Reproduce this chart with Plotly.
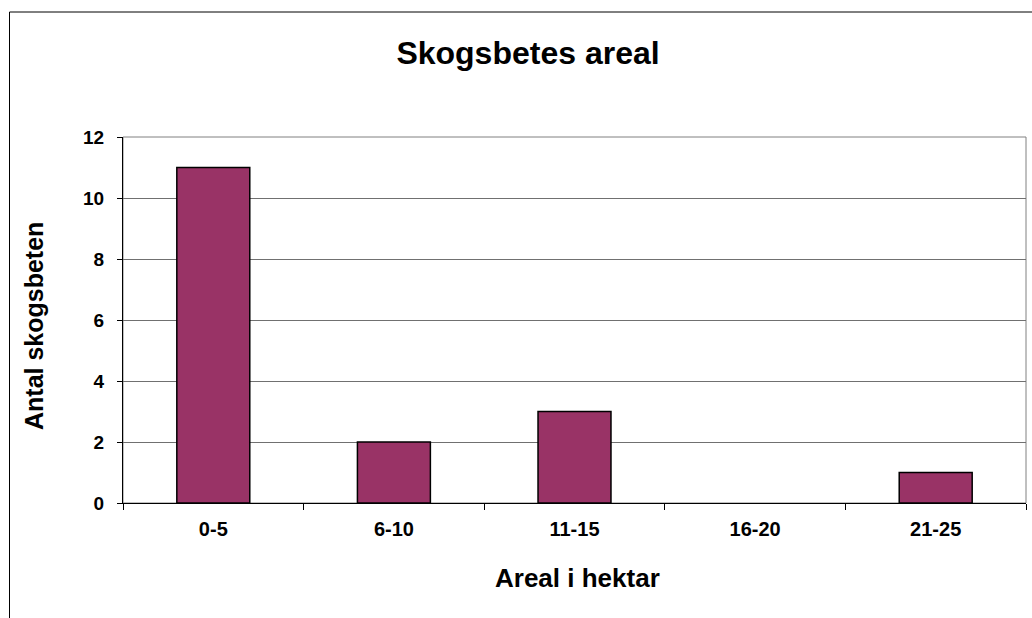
import plotly.graph_objects as go

categories = ["0-5", "6-10", "11-15", "16-20", "21-25"]
counts = [11, 2, 3, 0, 1]
y_ticks = [0, 2, 4, 6, 8, 10, 12]

title_text = "Skogsbetes areal"
x_title = "Areal i hektar"
y_title = "Antal skogsbeten"

W, H = 1032, 618
L, R, T, B = 123, 1026, 137, 503  # plot area in px

def px_x(p):
    return (p - L) / (R - L)

def px_y(p):
    return (B - p) / (B - T)

FONT = "Liberation Sans, Arial, sans-serif"

fig = go.Figure()
fig.add_trace(go.Bar(
    x=categories, y=counts,
    marker=dict(color="#993366",
                line=dict(color="#000000", width=[1.5 if v > 0 else 0 for v in counts])),
    hoverinfo="x+y",
))

fig.update_layout(
    width=W, height=H,
    margin=dict(l=L, r=W - R, t=T, b=H - B, pad=0),
    paper_bgcolor="white", plot_bgcolor="white",
    showlegend=False,
    bargap=0.596,
    font=dict(family=FONT, color="black"),
    title=dict(text="<b>" + title_text + "</b>", x=528 / W, xref="container", xanchor="center",
               y=1 - 53 / H, yref="container", yanchor="middle",
               font=dict(size=32, family=FONT, color="black")),
)

fig.update_xaxes(
    type="category",
    showline=True, linecolor="black", linewidth=1,
    ticks="outside", tickson="boundaries", ticklen=6, tickcolor="black", tickwidth=1,
    tickfont=dict(size=20, family=FONT, color="black", weight="bold"),
    ticklabelstandoff=8,
    showgrid=False, zeroline=False,
)
fig.update_yaxes(
    range=[0, 12], tickvals=y_ticks,
    showline=True, linecolor="black", linewidth=1,
    ticks="outside", ticklen=5, tickcolor="black", tickwidth=1,
    tickfont=dict(size=19, family=FONT, color="black", weight="bold"),
    ticklabelstandoff=9,
    showgrid=True, gridcolor="#707070", gridwidth=1,
    zeroline=False,
)

# plot-area border (gray) and outer chart frame
fig.add_shape(type="rect", xref="paper", yref="paper", x0=0, y0=0, x1=1, y1=1,
              line=dict(color="#808080", width=1), layer="below")
fig.add_shape(type="line", xref="paper", yref="paper",
              x0=px_x(9.5), y0=px_y(12), x1=px_x(9.5), y1=px_y(640),
              line=dict(color="black", width=1))
fig.add_shape(type="line", xref="paper", yref="paper",
              x0=px_x(9.5), y0=px_y(12), x1=px_x(1060), y1=px_y(12),
              line=dict(color="black", width=1))

fig.add_annotation(text="<b>" + y_title + "</b>", xref="paper", yref="paper",
                   x=px_x(34), y=px_y(326), textangle=-90, showarrow=False,
                   xanchor="center", yanchor="middle",
                   font=dict(size=25, family=FONT, color="black"))
fig.add_annotation(text="<b>" + x_title + "</b>", xref="paper", yref="paper",
                   x=px_x(577), y=px_y(578), showarrow=False,
                   xanchor="center", yanchor="middle",
                   font=dict(size=26, family=FONT, color="black"))

fig.write_html("out.html",
               config={"displayModeBar": False},
               post_script="document.body.style.margin='0';document.body.style.overflow='hidden';")
